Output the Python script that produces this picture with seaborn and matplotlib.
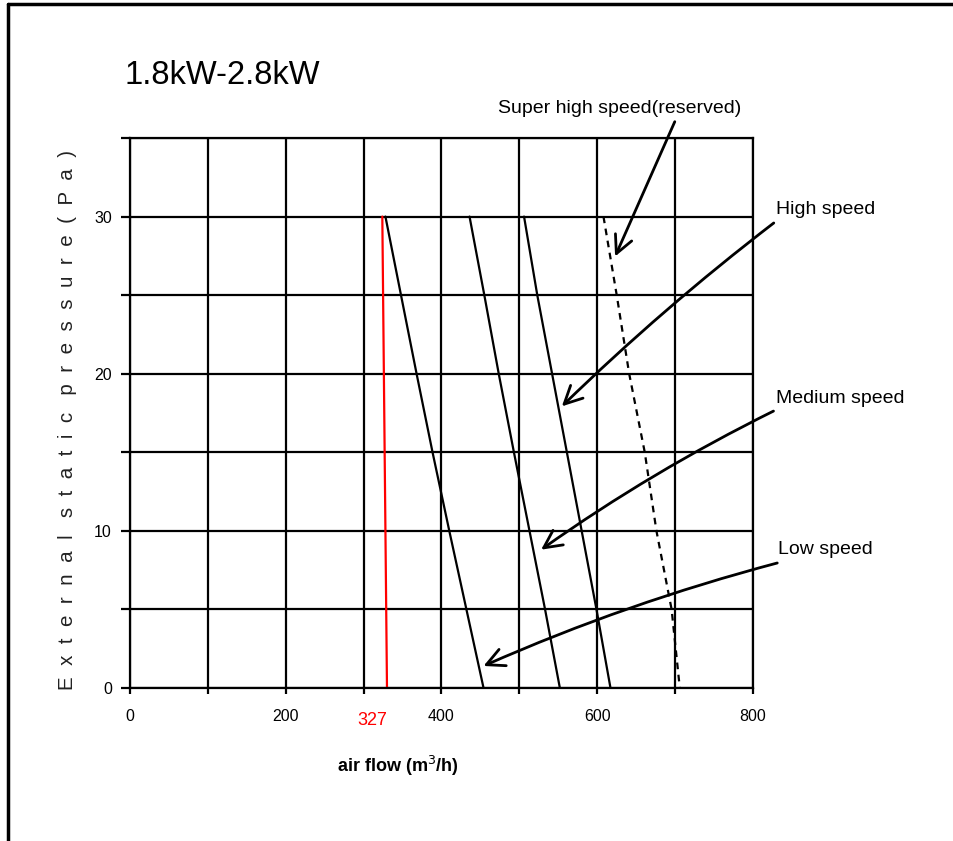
import matplotlib
matplotlib.use("Agg")
import matplotlib.pyplot as plt
import seaborn as sns
import pandas as pd

# ---- data ----
pressure = [30, 25, 20, 15, 10, 5, 0]
low_speed = [328, 348, 368, 388.5, 410, 432, 454]
medium_speed = [436, 455, 473.5, 493, 513, 533, 552]
high_speed = [506, 523, 542, 561, 580, 599, 617]
super_high_speed = [608, 625, 641, 661, 676, 695.5, 706]
red_line_x = [324, 330]
red_line_y = [30, 0]
red_label = "327"
title = "1.8kW-2.8kW"
x_ticks = [0, 100, 200, 300, 400, 500, 600, 700, 800]
x_ticklabels = ["0", "", "200", "", "400", "", "600", "", "800"]
y_ticks = [0, 5, 10, 15, 20, 25, 30, 35]
y_ticklabels = ["0", "", "10", "", "20", "", "30", ""]
labels = ["Super high speed(reserved)", "High speed", "Medium speed", "Low speed"]

sns.set_style("white")
plt.rcParams['font.family'] = ['Liberation Sans', 'DejaVu Sans']
plt.rcParams['text.color'] = 'black'
plt.rcParams['xtick.color'] = 'black'
plt.rcParams['ytick.color'] = 'black'
plt.rcParams['axes.labelcolor'] = 'black'

fig = plt.figure(figsize=(9.54, 8.41), dpi=100)
ax = fig.add_axes([130/954, 1-688/841, (753-130)/954, (688-138)/841])

frames = []
for name, xs in [("low", low_speed), ("medium", medium_speed), ("high", high_speed)]:
    frames.append(pd.DataFrame({"flow": xs, "pressure": pressure, "series": name}))
solid = pd.concat(frames, ignore_index=True)
for name, grp in solid.groupby("series"):
    sns.lineplot(data=grp, x="flow", y="pressure", ax=ax, color="black", lw=1.6,
                 sort=False, estimator=None)
sup = pd.DataFrame({"flow": super_high_speed, "pressure": pressure})
sns.lineplot(data=sup, x="flow", y="pressure", ax=ax, color="black", lw=1.6,
             sort=False, estimator=None, linestyle=(0, (3, 2.5)))
red = pd.DataFrame({"flow": red_line_x, "pressure": red_line_y})
sns.lineplot(data=red, x="flow", y="pressure", ax=ax, color="red", lw=1.6,
             sort=False, estimator=None)

ax.set_xlim(0, 800)
ax.set_ylim(0, 35)
ax.set_xticks(x_ticks)
ax.set_xticklabels(x_ticklabels)
ax.set_yticks(y_ticks)
ax.set_yticklabels(y_ticklabels)
ax.grid(True, color="black", lw=1.6)
ax.set_axisbelow(True)
for s in ax.spines.values():
    s.set_color("black")
    s.set_linewidth(1.6)
ax.tick_params(axis="x", length=4.5, width=1.6, color="black", pad=10.5, labelsize=11.5)
ax.tick_params(axis="y", length=6.5, width=1.6, color="black", pad=6.5, labelsize=11.5)
ax.tick_params(bottom=True, left=True)
ax.set_xlabel("")
ax.set_ylabel("")

# red label
ax.text(310.7, 0, red_label, color="red", fontsize=13, ha="center", va="center")
ax.texts[-1].set_position((310.7, -(720.5-688)/(550/35)))

# x label
fig.text(398/954, 1-766/841, "air flow (m$^3$/h)", ha="center", va="center",
         fontsize=13, fontweight="bold")
# y label
ylab = "   ".join(["  ".join(list(w)) for w in ["External", "static", "pressure(Pa)"]])
fig.text(68/954, 1-420/841, ylab, rotation=90, ha="center", va="center",
         fontsize=14.8, color="#222222")
# title
fig.text(125/954, 1-75/841, title, ha="left", va="center", fontsize=23.5)

# annotations
arrow = dict(arrowstyle="->", lw=2, color="black", mutation_scale=32)
ax.text(629, 36.9, labels[0], ha="center", va="center", fontsize=14)
ax.annotate("", xy=(621.5, 27.3), xytext=(701, 36.2), arrowprops=dict(arrow, connectionstyle="arc3,rad=0.0"),
            annotation_clip=False)
ax.text(829.5, 30.45, labels[1], ha="left", va="center", fontsize=14)
ax.annotate("", xy=(552, 17.8), xytext=(829.5, 29.7), arrowprops=dict(arrow, connectionstyle="arc3,rad=0.03"),
            annotation_clip=False)
ax.text(829.5, 18.4, labels[2], ha="left", va="center", fontsize=14)
ax.annotate("", xy=(525, 8.7), xytext=(829.5, 17.7), arrowprops=dict(arrow, connectionstyle="arc3,rad=0.04"),
            annotation_clip=False)
ax.text(832, 8.8, labels[3], ha="left", va="center", fontsize=14)
ax.annotate("", xy=(450.7, 1.33), xytext=(834.6, 8.0), arrowprops=dict(arrow, connectionstyle="arc3,rad=0.04"),
            annotation_clip=False)

# figure border (left and top)
fig.add_artist(plt.Line2D([8/954, 8/954], [0, 1-4/841], transform=fig.transFigure, color="black", lw=2.5))
fig.add_artist(plt.Line2D([8/954, 1], [1-4/841, 1-4/841], transform=fig.transFigure, color="black", lw=2.5))

fig.savefig("out.png", dpi=100)
